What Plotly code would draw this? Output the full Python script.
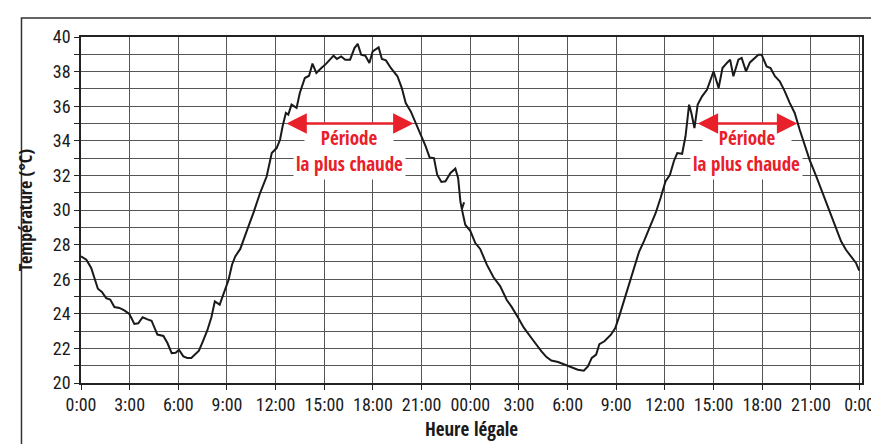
import plotly.graph_objects as go

# Relevé de température sur deux jours (heures depuis 0:00 du premier jour)
heures_j1 = [0.0, 0.33, 0.63, 0.84, 1.04, 1.29, 1.55, 1.80, 2.06, 2.37, 2.67, 2.98,
             3.29, 3.53, 3.80, 4.10, 4.35, 4.71, 5.08, 5.33, 5.59, 5.84, 6.04, 6.31,
             6.55, 6.80, 7.27, 7.47, 7.78, 8.04, 8.25, 8.55, 8.86, 9.10, 9.31, 9.51,
             9.82, 10.05, 10.30, 10.63, 11.04, 11.45, 11.76, 12.06, 12.27, 12.43, 12.63,
             12.78, 12.98, 13.29, 13.49, 13.80, 14.06, 14.27, 14.51, 14.82, 15.12, 15.57,
             15.78, 16.04, 16.29, 16.59, 16.86, 17.06, 17.27, 17.53, 17.78, 17.98, 18.35,
             18.55, 18.80, 19.10, 19.51, 19.78, 20.02, 20.33, 20.63, 20.84, 21.04, 21.25,
             21.49, 21.76, 21.96, 22.22, 22.47, 22.78, 23.08, 23.25, 23.39, 23.48, 23.62]
temp_j1 = [27.32, 27.13, 26.65, 26.07, 25.45, 25.26, 24.91, 24.82, 24.39, 24.34, 24.20, 23.99,
           23.41, 23.45, 23.80, 23.68, 23.60, 22.80, 22.72, 22.31, 21.73, 21.75, 21.92, 21.54,
           21.45, 21.45, 21.87, 22.31, 23.02, 23.80, 24.72, 24.53, 25.30, 25.97, 26.84, 27.32,
           27.75, 28.30, 29.00, 29.83, 30.98, 31.95, 33.29, 33.58, 34.06, 34.84, 35.61,
           35.51, 36.09, 35.90, 36.76, 37.63, 37.76, 38.46, 37.92, 38.21, 38.46, 38.92,
           38.73, 38.88, 38.69, 38.69, 39.36, 39.60, 38.98, 38.92, 38.50, 39.17, 39.40,
           38.73, 38.65, 38.21, 37.73, 37.05, 36.18, 35.70, 35.03, 34.55, 34.16, 33.68,
           33.04, 33.00, 32.04, 31.62, 31.66, 32.14, 32.39, 31.85, 30.50, 30.05, 30.45]

heures_j2 = [23.48, 23.69, 24.00, 24.31, 24.61, 25.02, 25.43, 25.84, 26.25, 26.55, 26.96,
             27.30, 27.77, 28.10, 28.39, 28.70, 29.00, 29.41, 29.71, 30.02, 30.33, 30.63,
             31.00, 31.25, 31.49, 31.76, 31.96, 32.27, 32.67, 32.94, 33.18, 33.49, 33.80,
             34.10, 34.41, 34.71, 35.02, 35.43, 35.73, 36.04, 36.31, 36.55, 36.76, 37.06,
             37.27, 37.49, 37.63, 37.82, 38.02, 38.29, 38.59, 38.83, 39.00, 39.31, 39.55,
             39.82, 40.02, 40.22, 40.53, 40.73, 41.00, 41.24, 41.55, 41.76, 41.96, 42.10,
             42.27, 42.51, 42.78, 43.08, 43.39, 43.70, 44.00, 44.31, 44.61, 44.92, 45.33,
             45.73, 46.14, 46.55, 46.86, 47.16, 47.47, 47.78, 47.98]
temp_j2 = [30.05, 29.15, 28.80, 28.09, 27.75, 26.84, 26.11, 25.60, 24.80, 24.40, 23.76,
           23.20, 22.60, 22.15, 21.83, 21.50, 21.30, 21.21, 21.10, 20.96, 20.87, 20.77,
           20.71, 20.96, 21.45, 21.64, 22.25, 22.41, 22.79, 23.18, 23.85, 24.80, 25.80,
           26.70, 27.60, 28.20, 28.86, 29.83, 30.69, 31.66, 32.04, 32.82, 33.29, 33.25,
           34.26, 36.09, 35.61, 34.74, 36.09, 36.57, 36.95, 37.53, 38.01, 37.05, 38.21,
           38.50, 38.69, 37.73, 38.69, 38.79, 38.01, 38.53, 38.79, 38.98, 38.98, 38.69,
           38.30, 38.21, 37.73, 37.44, 36.86, 36.18, 35.61, 34.64, 33.77, 32.90, 31.95,
           30.98, 30.02, 29.06, 28.19, 27.70, 27.32, 26.94, 26.50]

# Axe des heures
ticks_heures = list(range(0, 49, 3))
ticks_labels = ["0:00", "3:00", "6:00", "9:00", "12:00", "15:00", "18:00", "21:00", "00:00",
                "3:00", "6:00", "9:00", "12:00", "15:00", "18:00", "21:00", "0:00"]

# Périodes les plus chaudes (début, fin) et température de la flèche
periodes = [(12.57, 20.5), (37.93, 44.16)]
temp_fleche = 35

ROUGE = "#e8202a"
POLICE = "'Roboto Condensed', 'DejaVu Sans Condensed', sans-serif"
POLICE_GRAS = "'Open Sans Condensed', 'Roboto Condensed', sans-serif"
GRILLE = "#555555"
NBSP = "\u00a0"

fig = go.Figure()
for h, t in [(heures_j1, temp_j1), (heures_j2, temp_j2)]:
    fig.add_trace(go.Scatter(x=h, y=t, mode="lines",
                             line=dict(color="#1a1a1a", width=2),
                             showlegend=False, hoverinfo="skip"))

# textes d'abord (fond blanc), flèches ensuite pour qu'elles restent visibles
for debut, fin in periodes:
    milieu = (debut + fin) / 2
    fig.add_annotation(x=milieu, y=34.15, text=NBSP * 3 + "Période" + NBSP * 3, showarrow=False,
                       font=dict(family=POLICE_GRAS, size=19, color=ROUGE),
                       bgcolor="white", borderpad=1)
    fig.add_annotation(x=milieu, y=32.66, text="la plus chaude", showarrow=False,
                       font=dict(family=POLICE_GRAS, size=19, color=ROUGE),
                       bgcolor="white", borderpad=2)
for debut, fin in periodes:
    fig.add_annotation(x=fin, y=temp_fleche, ax=debut, ay=temp_fleche,
                       xref="x", yref="y", axref="x", ayref="y",
                       text="", showarrow=True, arrowhead=2, arrowside="end+start",
                       arrowsize=1.7, arrowwidth=2.4, arrowcolor=ROUGE, standoff=0,
                       startstandoff=0)

# Cadre extérieur
fig.add_shape(type="rect", xref="paper", yref="paper",
              x0=-0.0762, x1=1.0229, y0=-0.25, y1=1.0549,
              line=dict(color="#333333", width=1.5), layer="below")

fig.update_layout(
    width=879, height=444,
    margin=dict(l=73, r=19, t=29, b=69),
    paper_bgcolor="white", plot_bgcolor="white",
    font=dict(family=POLICE, size=18, color="#1a1a1a"),
    xaxis=dict(
        range=[0, 48.15], tickvals=ticks_heures, ticktext=ticks_labels,
        showgrid=True, gridcolor=GRILLE, gridwidth=1,
        showline=True, linecolor="#222222", linewidth=1.5, mirror=True,
        ticks="outside", ticklen=5, tickcolor="#222222", zeroline=False,
        title=dict(text="Heure légale", font=dict(family=POLICE_GRAS, size=19), standoff=8),
    ),
    yaxis=dict(
        range=[20, 40], dtick=2, tick0=20,
        showgrid=True, gridcolor=GRILLE, gridwidth=1,
        minor=dict(dtick=1, showgrid=True, gridcolor=GRILLE, ticks="outside",
                   ticklen=5, tickcolor="#222222"),
        showline=True, linecolor="#222222", linewidth=1.5, mirror=True,
        ticks="outside", ticklen=5, tickcolor="#222222", zeroline=False,
        title=dict(text="Température (°C)", font=dict(family=POLICE_GRAS, size=18), standoff=16),
    ),
)

fig.write_html("out.html")
